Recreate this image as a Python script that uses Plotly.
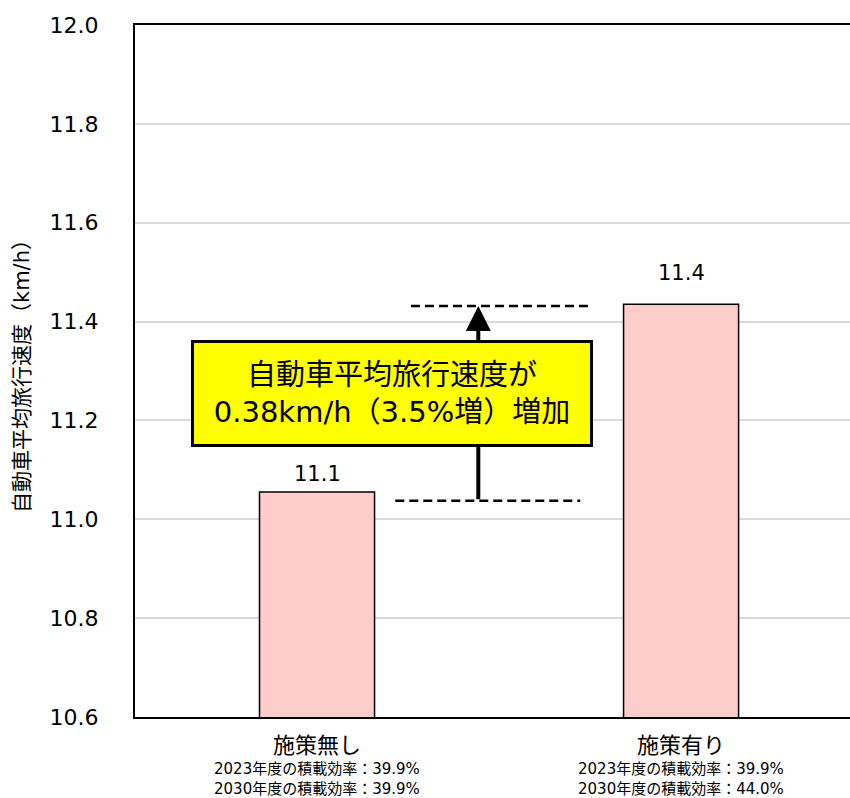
import plotly.graph_objects as go

categories = ["施策無し", "施策有り"]
speeds = [11.055, 11.435]
eff_2023 = [39.9, 39.9]
eff_2030 = [39.9, 44.0]
y_ticks = [10.6, 10.8, 11.0, 11.2, 11.4, 11.6, 11.8, 12.0]
box_text = "自動車平均旅行速度が<br>0.38km/h（3.5%増）増加"
y_title = "自動車平均旅行速度（km/h）"

FONT = "DejaVu Sans, Noto Sans CJK JP, sans-serif"
xs = list(range(len(categories)))
label_shift = [4, 17]

fig = go.Figure()
fig.add_trace(go.Bar(
    x=xs, y=speeds, width=0.316,
    marker=dict(color="#FFCCCC", line=dict(color="black", width=1.5)),
    showlegend=False, hoverinfo="skip",
))

for i in xs:
    fig.add_annotation(x=i, y=speeds[i], xref="x", yref="y", yanchor="bottom",
                       yshift=label_shift[i], text=f"{speeds[i]:.1f}", showarrow=False,
                       font=dict(size=21, color="black", family=FONT))

lower_y, upper_y = 11.0376, 11.4315
fig.add_shape(type="line", x0=0.215, x1=0.723, y0=lower_y, y1=lower_y,
              xref="x", yref="y", line=dict(color="black", width=2.5, dash="9px,5px"))
fig.add_shape(type="line", x0=0.258, x1=0.756, y0=upper_y, y1=upper_y,
              xref="x", yref="y", line=dict(color="black", width=2.5, dash="9px,5px"))

fig.add_annotation(x=0.443, y=upper_y, ax=0.443, ay=lower_y, xref="x", yref="y",
                   axref="x", ayref="y", text="", showarrow=True, arrowhead=2,
                   arrowwidth=4, arrowsize=1.25, arrowcolor="black", standoff=0)
fig.add_annotation(x=0.207, y=11.2545, xref="x", yref="y", text=box_text,
                   showarrow=False, bgcolor="#FFFF00", bordercolor="black",
                   borderwidth=3, borderpad=0, width=396, height=101,
                   font=dict(size=29, color="black", family=FONT), align="center")

for i in xs:
    fig.add_annotation(
        x=i, y=0, xref="x", yref="paper", yanchor="top", yshift=-41,
        text=f"{eff_2023[i]:.1f}".join(["2023年度の積載効率：", "%"]) + "<br>" +
             f"{eff_2030[i]:.1f}".join(["2030年度の積載効率：", "%"]),
        showarrow=False, font=dict(size=15, color="black", family=FONT))

fig.update_layout(
    width=850, height=798,
    margin=dict(l=135, r=0, t=25, b=81),
    plot_bgcolor="white", paper_bgcolor="white",
    font=dict(family=FONT, color="black"),
    xaxis=dict(range=[-0.5, 1.464], tickvals=xs, ticktext=categories,
               tickfont=dict(size=22), showline=True, linecolor="black",
               linewidth=2, mirror=True, showgrid=False, ticks="",
               ticklabelstandoff=8, zeroline=False),
    yaxis=dict(range=[10.6, 12.0], tickvals=y_ticks,
               ticktext=[f"{v:.1f}" for v in y_ticks],
               tickfont=dict(size=22), showline=True, linecolor="black",
               linewidth=2, showgrid=True, gridcolor="#D9D9D9", gridwidth=1.5,
               ticks="", ticklabelstandoff=30, zeroline=False,
               title=dict(text=y_title, font=dict(size=21), standoff=14)),
)

fig.write_html("out.html")
